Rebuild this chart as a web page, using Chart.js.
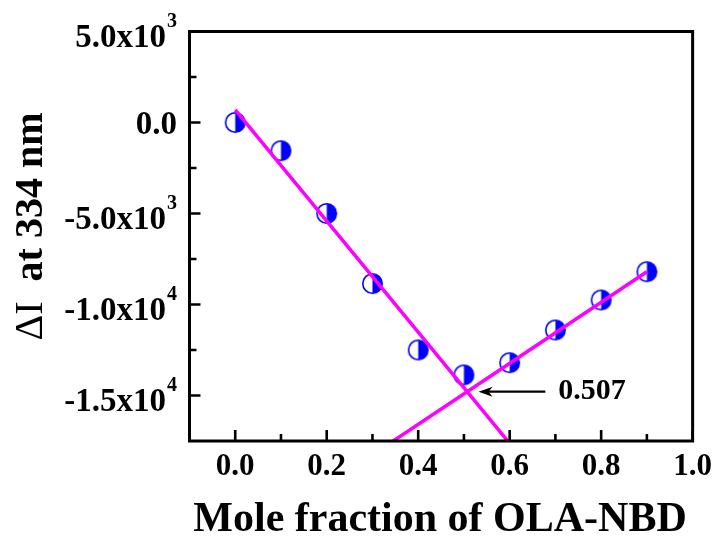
<!DOCTYPE html>
<html>
<head>
<meta charset="utf-8">
<script src="https://cdn.jsdelivr.net/npm/chart.js@4.4.1/dist/chart.umd.min.js"></script>
<style>
  html, body { margin: 0; padding: 0; background: #ffffff; }
  #wrap { width: 719px; height: 538px; }
</style>
</head>
<body>
<div id="wrap"><canvas id="job" width="719" height="538"></canvas></div>
<script>
// Measured points: change of intensity at 334 nm versus mole fraction
const moleFraction = [0.0, 0.1, 0.2, 0.3, 0.4, 0.5, 0.6, 0.7, 0.8, 0.9];
const deltaI = [0, -1550, -5000, -8850, -12500, -13870, -13200, -11400, -9750, -8200];

// Two straight fits; they cross at the stoichiometric point
const fitLeftX = [0.0, 0.507, 0.6];
const fitLeftY = [690, -14790, -17630];
const fitRightX = [0.34, 0.507, 0.9];
const fitRightY = [-17590, -14790, -8200];
const crossX = 0.507;
const crossY = -14790;
const crossLabel = '0.507';

// Axis ticks
const xTickValues = [0.0, 0.2, 0.4, 0.6, 0.8, 1.0];
const xTickLabels = ['0.0', '0.2', '0.4', '0.6', '0.8', '1.0'];
const xMinorValues = [0.1, 0.3, 0.5, 0.7, 0.9];
const yTickValues = [5000, 0, -5000, -10000, -15000];
const yTickMantissas = ['5.0x10', '0.0', '-5.0x10', '-1.0x10', '-1.5x10'];
const yTickExponents = ['3', '', '3', '4', '4'];
const yMinorValues = [2500, -2500, -7500, -12500];

const SERIF = "'Liberation Serif', 'Times New Roman', serif";
const BLUE = '#0000ff';
const MAGENTA = '#ff00ff';

// Half-filled circle: open on the left, solid on the right
function halfDisc(r, lw) {
  const s = Math.ceil(2 * r + lw + 2);
  const c = document.createElement('canvas');
  c.width = s; c.height = s;
  const g = c.getContext('2d');
  const cx = s / 2, cy = s / 2;
  g.fillStyle = '#ffffff';
  g.beginPath(); g.arc(cx, cy, r, 0, Math.PI * 2); g.fill();
  g.fillStyle = BLUE;
  g.beginPath(); g.arc(cx, cy, r, -Math.PI / 2, Math.PI / 2); g.closePath(); g.fill();
  g.strokeStyle = BLUE; g.lineWidth = lw;
  g.beginPath(); g.arc(cx, cy, r, 0, Math.PI * 2); g.stroke();
  return c;
}

const frameAndText = {
  id: 'frameAndText',
  afterDraw(chart, args, opts) {
    const { ctx, chartArea: a, scales: { x, y } } = chart;
    ctx.save();

    // frame
    ctx.strokeStyle = '#000';
    ctx.lineWidth = 3;
    ctx.strokeRect(a.left, a.top, a.right - a.left, a.bottom - a.top);

    // inward ticks on bottom and left
    ctx.lineWidth = 2.6;
    ctx.beginPath();
    xTickValues.forEach(v => { const p = x.getPixelForValue(v); ctx.moveTo(p, a.bottom); ctx.lineTo(p, a.bottom - 11); });
    xMinorValues.forEach(v => { const p = x.getPixelForValue(v); ctx.moveTo(p, a.bottom); ctx.lineTo(p, a.bottom - 7); });
    yTickValues.forEach(v => { const p = y.getPixelForValue(v); ctx.moveTo(a.left, p); ctx.lineTo(a.left + 11, p); });
    yMinorValues.forEach(v => { const p = y.getPixelForValue(v); ctx.moveTo(a.left, p); ctx.lineTo(a.left + 7, p); });
    ctx.stroke();

    // y tick labels with exponent
    ctx.fillStyle = '#000';
    ctx.textBaseline = 'alphabetic';
    ctx.textAlign = 'left';
    const mainFont = 'bold 33px ' + SERIF;
    const supFont = 'bold 20px ' + SERIF;
    const rightEdge = a.left - 12.5;
    yTickValues.forEach((v, i) => {
      const p = y.getPixelForValue(v);
      const m = yTickMantissas[i], e = yTickExponents[i];
      ctx.font = mainFont;
      const wm = ctx.measureText(m).width;
      ctx.font = supFont;
      const we = e ? ctx.measureText(e).width + 1 : 0;
      const x0 = rightEdge - wm - we;
      const base = p + (e ? 15.5 : 11);
      ctx.font = mainFont;
      ctx.fillText(m, x0, base);
      if (e) { ctx.font = supFont; ctx.fillText(e, x0 + wm + 1, base - 20); }
    });

    // arrow to the crossing point and its value
    const ay = y.getPixelForValue(opts.arrowY);
    const tip = x.getPixelForValue(opts.arrowTip);
    const tail = x.getPixelForValue(opts.arrowTail);
    ctx.lineWidth = 2.3;
    ctx.beginPath(); ctx.moveTo(tip + 8, ay); ctx.lineTo(tail, ay); ctx.stroke();
    ctx.beginPath();
    ctx.moveTo(tip, ay); ctx.lineTo(tip + 14, ay - 5); ctx.lineTo(tip + 10, ay); ctx.lineTo(tip + 14, ay + 5); ctx.closePath();
    ctx.fill();
    ctx.font = 'bold 30px ' + SERIF;
    ctx.textBaseline = 'middle';
    ctx.fillText(crossLabel, x.getPixelForValue(opts.labelX), ay);

    // axis titles
    ctx.textBaseline = 'alphabetic';
    ctx.textAlign = 'center';
    ctx.font = 'bold 42px ' + SERIF;
    ctx.fillText('Mole fraction of OLA-NBD', (a.left + a.right) / 2 - 1, 531);

    ctx.save();
    ctx.translate(42, 226.5);
    ctx.rotate(-Math.PI / 2);
    ctx.textAlign = 'left';
    const f1 = '40px ' + SERIF, f2 = 'bold 40px ' + SERIF;
    const s1 = '\u0394I', s2 = '  at 334 nm';
    ctx.font = f1; const w1 = ctx.measureText(s1).width;
    ctx.font = f2; const w2 = ctx.measureText(s2).width;
    const start = -(w1 + w2) / 2;
    ctx.font = f1; ctx.fillText(s1, start, 0);
    ctx.font = f2; ctx.fillText(s2, start + w1, 0);
    ctx.restore();

    ctx.restore();
  }
};

const marker = halfDisc(9.7, 1.6);

new Chart(document.getElementById('job'), {
  type: 'scatter',
  data: {
    datasets: [
      {
        label: 'data',
        data: moleFraction.map((v, i) => ({ x: v, y: deltaI[i] })),
        pointStyle: marker,
        pointRadius: 10,
        showLine: false,
        order: 2
      },
      {
        label: 'fit left',
        data: fitLeftX.map((v, i) => ({ x: v, y: fitLeftY[i] })),
        showLine: true,
        pointRadius: 0,
        borderColor: MAGENTA,
        borderWidth: 3.5,
        order: 1
      },
      {
        label: 'fit right',
        data: fitRightX.map((v, i) => ({ x: v, y: fitRightY[i] })),
        showLine: true,
        pointRadius: 0,
        borderColor: MAGENTA,
        borderWidth: 3.5,
        order: 1
      }
    ]
  },
  options: {
    responsive: false,
    animation: false,
    devicePixelRatio: 1,
    layout: { padding: { left: 0, right: 24, top: 31.5, bottom: 0 } },
    plugins: {
      legend: { display: false },
      tooltip: { enabled: false },
      frameAndText: { arrowY: crossY, arrowTip: 0.532, arrowTail: 0.678, labelX: 0.706 }
    },
    scales: {
      x: {
        type: 'linear',
        min: -0.1,
        max: 1.0,
        afterBuildTicks: s => { s.ticks = xTickValues.map(v => ({ value: v })); },
        afterFit: s => { s.height = 97; },
        grid: { display: false, drawTicks: false },
        border: { display: false },
        ticks: {
          autoSkip: false,
          maxRotation: 0,
          padding: 7,
          color: '#000',
          font: { family: SERIF, size: 31, weight: 'bold' },
          callback: (v, i) => xTickLabels[i]
        }
      },
      y: {
        type: 'linear',
        min: -17500,
        max: 5000,
        afterBuildTicks: s => { s.ticks = yTickValues.map(v => ({ value: v })); },
        afterFit: s => { s.width = 189.5; },
        grid: { display: false, drawTicks: false },
        border: { display: false },
        ticks: { display: false }
      }
    }
  },
  plugins: [frameAndText]
});
</script>
</body>
</html>
